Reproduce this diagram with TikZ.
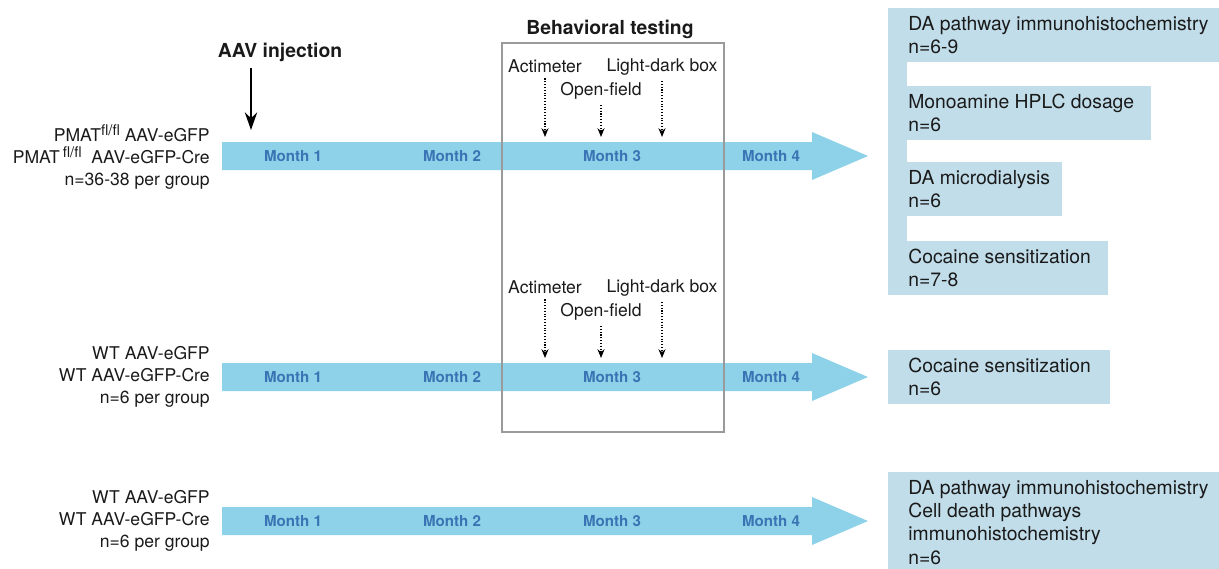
\documentclass[tikz,border=0pt]{standalone}
\usepackage{fontspec}
\setmainfont{TeX Gyre Heros}
\usetikzlibrary{arrows.meta, positioning, calc}
\definecolor{bandblue}{HTML}{8DD2E8}
\definecolor{monthblue}{HTML}{3A74B4}
\definecolor{boxblue}{HTML}{C1DDEA}
\definecolor{framegrey}{HTML}{9A9A9A}
\definecolor{inkdark}{HTML}{1A1A1A}
\newcommand{\flfl}{\raisebox{3.6pt}{\fontsize{8.4}{9}\selectfont fl/fl}}

\begin{document}
\begin{tikzpicture}[x=0.02cm, y=-0.02cm, text=inkdark,
  month/.style={font=\fontsize{8.6}{10}\selectfont\bfseries, text=monthblue},
  group/.style={anchor=east, align=right, inner sep=0pt,
                font=\fontsize{10}{12.4}\selectfont},
  test/.style={anchor=base, font=\fontsize{10}{12}\selectfont},
  title/.style={font=\fontsize{11}{13}\selectfont\bfseries},
  result/.style={anchor=north west, align=left, inner sep=0pt,
                 font=\fontsize{11}{13.2}\selectfont},
  dotarrow/.style={densely dotted, line width=0.6pt,
                   -{Stealth[length=5pt, width=4pt]}}]
  \useasboundingbox (0,0) rectangle (1219,568);
  \foreach \r/\yc in {1/156, 2/377, 3/521}{%
    \fill[bandblue] (222,\yc-14) -- (812,\yc-14) -- (812,\yc-24) -- (868,\yc)
      -- (812,\yc+24) -- (812,\yc+14) -- (222,\yc+14) -- cycle;
    \foreach \m/\xm in {1/293, 2/452, 3/612, 4/771}{%
      \node[month] (m\r\m) at (\xm,\yc) {Month \m};}}
  \node[group] (g1) at (210,157)
    {PMAT\flfl\ AAV-eGFP\\PMAT\,\flfl\ \ AAV-eGFP-Cre\\n=36-38 per group};
  \node[group] (g2) at (210,377) {WT AAV-eGFP\\WT AAV-eGFP-Cre\\n=6 per group};
  \node[group] (g3) at (210,521) {WT AAV-eGFP\\WT AAV-eGFP-Cre\\n=6 per group};
  \node[title] (aav) at (280,52) {AAV injection};
  \coordinate (inj) at (251,130);
  \draw[line width=1.2pt, -{Stealth[length=10pt, width=7pt]}] (aav.south -| inj) -- (inj);
  \node[title] (bt) at (610,29) {Behavioral testing};
  \draw[framegrey, line width=0.85pt] (502,43) rectangle (724,432);
  \foreach \s/\dy in {a/0, b/221}{%
    \node[test] (act\s) at (545,72+\dy) {Actimeter};
    \node[test] (ldb\s) at (662,71+\dy) {Light-dark box};
    \node[test] (opf\s) at (601,95+\dy) {Open-field};
    \coordinate (hit\s) at (0,137+\dy);
    \draw[dotarrow] (act\s.south) -- (act\s.south |- hit\s);
    \draw[dotarrow] (opf\s.south) -- (opf\s.south |- hit\s);
    \draw[dotarrow] (ldb\s.south) -- (ldb\s.south |- hit\s);}
  \fill[boxblue] (888,8) rectangle (907,295);
  \foreach \t/\b/\r in {8/62/1219, 86/140/1151, 162/216/1062, 241/295/1108,
                        350/404/1110, 472/570/1219}{%
    \fill[boxblue] (888,\t) rectangle (\r,\b);}
  \node[result] (r1) at (908,16) {DA pathway immunohistochemistry\\n=6-9};
  \node[result] (r2) at (908,94) {Monoamine HPLC dosage\\n=6};
  \node[result] (r3) at (908,170) {DA microdialysis\\n=6};
  \node[result] (r4) at (908,249) {Cocaine sensitization\\n=7-8};
  \node[result] (r5) at (908,358) {Cocaine sensitization\\n=6};
  \node[result] (r6) at (908,480)
    {DA pathway immunohistochemistry\\Cell death pathways\\immunohistochemistry\\n=6};
\end{tikzpicture}
\end{document}
